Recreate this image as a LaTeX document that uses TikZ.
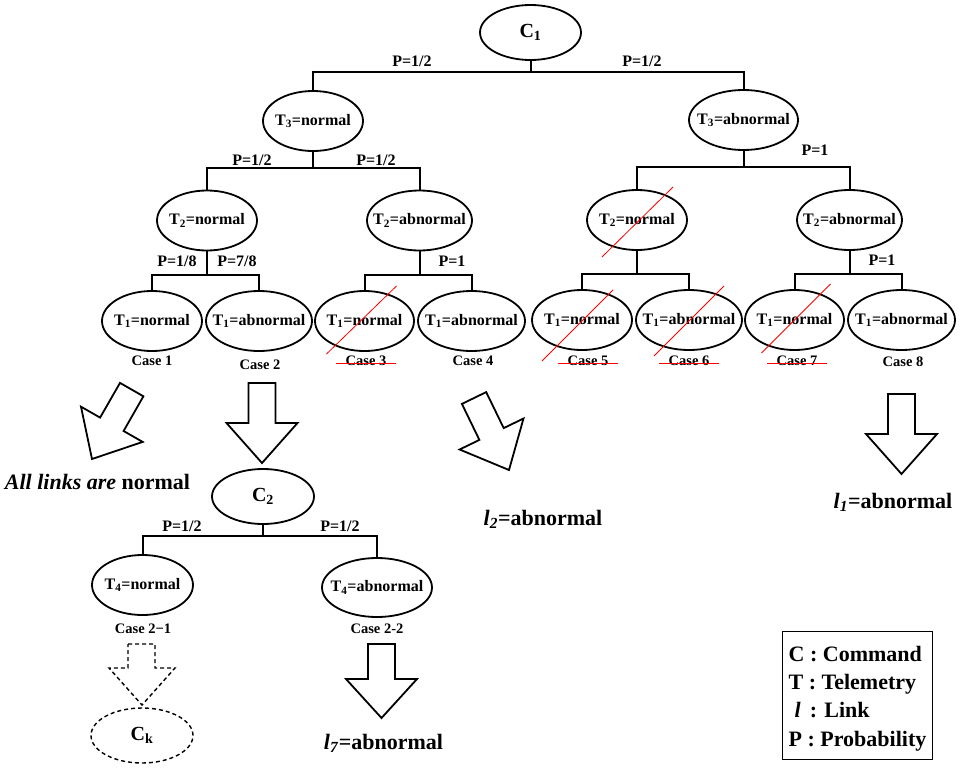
\documentclass[tikz,border=0pt]{standalone}
\usepackage{fontspec}
\setmainfont{Liberation Serif}
\usetikzlibrary{shapes.geometric}

\begin{document}
\begin{tikzpicture}[x=1pt,y=-1pt,
			etat/.style={draw, ellipse, line width=1.8pt, inner xsep=-14pt, inner ysep=0pt, minimum width=100pt, minimum height=60pt, font=\fontsize{16}{16}\selectfont\bfseries},
			commande/.style={etat, minimum width=101pt, minimum height=55pt, font=\fontsize{20}{20}\selectfont\bfseries},
			proba/.style={inner sep=0pt, font=\fontsize{16}{16}\selectfont\bfseries},
			cas/.style={inner sep=0pt, font=\fontsize{14.5}{14.5}\selectfont\bfseries},
			resultat/.style={inner sep=0pt, font=\fontsize{22}{22}\selectfont\bfseries},
			branche/.style={line width=2pt},
			barre/.style={red, line width=0.8pt},
			bloc/.style={line width=1.8pt, line join=miter}]
			
			% Cadre de l'image
			\useasboundingbox (0,0) rectangle (969,771);
			
			% Commande C1 et T3
			\node[commande] (c1) at (530.5,32.5) {C\textsubscript{1}};
			\node[etat] (t3n) at (313,121) {T\textsubscript{3}=normal};
			\node[etat, minimum width=109pt] (t3a) at (743.5,120) {T\textsubscript{3}=abnormal};
			
			% Niveau T2
			\node[etat] (t2n) at (207,220.5) {T\textsubscript{2}=normal};
			\node[etat, minimum width=105pt] (t2a) at (419.5,220.5) {T\textsubscript{2}=abnormal};
			\node[etat] (t2nb) at (637,220) {T\textsubscript{2}=normal};
			\node[etat, minimum width=105pt] (t2ab) at (849.5,220) {T\textsubscript{2}=abnormal};
			
			% Niveau T1 (cas 1 a 8)
			\node[etat] (n1) at (152,321) {T\textsubscript{1}=normal};
			\node[etat, minimum width=106pt] (n2) at (259,321) {T\textsubscript{1}=abnormal};
			\node[etat, minimum width=99pt] (n3) at (364.5,321) {T\textsubscript{1}=normal};
			\node[etat, minimum width=107pt] (n4) at (471.5,321) {T\textsubscript{1}=abnormal};
			\node[etat] (n5) at (582,320) {T\textsubscript{1}=normal};
			\node[etat, minimum width=106pt] (n6) at (689,320) {T\textsubscript{1}=abnormal};
			\node[etat, minimum width=99pt] (n7) at (794.5,320) {T\textsubscript{1}=normal};
			\node[etat, minimum width=107pt] (n8) at (901.5,320) {T\textsubscript{1}=abnormal};
			
			% Noms des cas
			\node[cas] (k1) at (152,361) {Case 1};
			\node[cas] (k2) at (260,365) {Case 2};
			\node[cas] (k3) at (366,361) {Case 3};
			\node[cas] (k4) at (473,361) {Case 4};
			\node[cas] (k5) at (588,361) {Case 5};
			\node[cas] (k6) at (689,361) {Case 6};
			\node[cas] (k7) at (797,361) {Case 7};
			\node[cas] (k8) at (903,362) {Case 8};
			
			% Branches de l'arbre
			\draw[branche] (c1.south) -- ++(0,11) coordinate (j1);
			\draw[branche] (t3n.north) |- (j1) -| (t3a.north);
			\draw[branche] (t3n.south) -- ++(0,16) coordinate (j2);
			\draw[branche] (t2n.north) |- (j2) -| (t2a.north);
			\draw[branche] (t3a.south) -- ++(0,16) coordinate (j3);
			\draw[branche] (t2nb.north) |- (j3) -| (t2ab.north);
			\draw[branche] (t2n.south) -- ++(0,24) coordinate (j4);
			\draw[branche] (n1.north) |- (j4) -| (n2.north);
			\draw[branche] (t2a.south) -- ++(0,24) coordinate (j5);
			\draw[branche] (n3.north) |- (j5) -| (n4.north);
			\draw[branche] (t2nb.south) -- ++(0,23) coordinate (j6);
			\draw[branche] (n5.north) |- (j6) -| (n6.north);
			\draw[branche] (t2ab.south) -- ++(0,23) coordinate (j7);
			\draw[branche] (n7.north) |- (j7) -| (n8.north);
			
			% Probabilites
			\node[proba] (p1) at (412,61) {P=1/2};
			\node[proba] (p2) at (642,61) {P=1/2};
			\node[proba] (p3) at (252,160) {P=1/2};
			\node[proba] (p4) at (376,160) {P=1/2};
			\node[proba] (p5) at (815,150) {P=1};
			\node[proba] (p6) at (177,261) {P=1/8};
			\node[proba] (p7) at (237,261) {P=7/8};
			\node[proba] (p8) at (452,261) {P=1};
			\node[proba] (p9) at (882,260) {P=1};
			
			% Cas impossibles barres en rouge
			\draw[barre] ([shift={(-35,37)}]t2nb.center) -- ([shift={(36,-33)}]t2nb.center);
			\draw[barre] ([shift={(-38,33)}]n3.center) -- ([shift={(32,-35)}]n3.center);
			\draw[barre] ([shift={(-40,41)}]n5.center) -- ([shift={(31,-30)}]n5.center);
			\draw[barre] ([shift={(-35,36)}]n6.center) -- ([shift={(35,-34)}]n6.center);
			\draw[barre] ([shift={(-33,33)}]n7.center) -- ([shift={(36,-36)}]n7.center);
			\draw[barre] ([xshift=-9pt,yshift=-2pt]k3.west) -- ([xshift=9pt,yshift=-2pt]k3.east);
			\draw[barre] ([xshift=-9pt,yshift=-2pt]k5.west) -- ([xshift=9pt,yshift=-2pt]k5.east);
			\draw[barre] ([xshift=-9pt,yshift=-2pt]k6.west) -- ([xshift=9pt,yshift=-2pt]k6.east);
			\draw[barre] ([xshift=-9pt,yshift=-2pt]k7.west) -- ([xshift=9pt,yshift=-2pt]k7.east);
			
			% Fleches blanches
			\draw[bloc] (120,382.9) -- (143.4,396.3) -- (123.6,431) -- (142.7,441.9) -- (92,459) -- (81,406.7) -- (100.1,417.6) -- cycle;  % cas 1
			\draw[bloc] (248.5,383) -- (275.5,383) -- (275.5,423) -- (297.5,423) -- (262,463) -- (226.5,423) -- (248.5,423) -- cycle;      % cas 2
			\draw[bloc] (461.9,403.9) -- (486.2,392.1) -- (503.7,428.1) -- (523.5,418.5) -- (509,470) -- (459.6,449.5) -- (479.4,439.9) -- cycle;  % cas 4
			\draw[bloc] (888,394) -- (915,394) -- (915,434) -- (937,434) -- (901.5,474) -- (866,434) -- (888,434) -- cycle;      % cas 8
			
			% Resultats
			\node[resultat] (tous) at (97.5,482) {\textit{All links are} normal};
			\node[resultat] (l2) at (543,519) {\textit{l}\textsubscript{\textit{2}}=abnormal};
			\node[resultat] (l1) at (893,502) {\textit{l}\textsubscript{\textit{1}}=abnormal};
			
			% Commande C2 et T4
			\node[commande, minimum width=102pt] (c2) at (263,496.5) {C\textsubscript{2}};
			\node[etat, minimum width=101pt] (t4n) at (142.5,585) {T\textsubscript{4}=normal};
			\node[etat, minimum width=110pt, minimum height=59pt] (t4a) at (377,587.5) {T\textsubscript{4}=abnormal};
			\draw[branche] (c2.south) -- ++(0,11) coordinate (j8);
			\draw[branche] (t4n.north) |- (j8) -| (t4a.north);
			\node[proba] (p10) at (182,526) {P=1/2};
			\node[proba] (p11) at (340,526) {P=1/2};
			\node[cas] (k21) at (143,629) {Case 2−1};
			\node[cas] (k22) at (377,629) {Case 2-2};
			
			% Suite en pointilles vers Ck
			\draw[bloc, dash pattern=on 4pt off 3pt, line width=1.4pt] (128,644) -- (155,644) -- (155,668) -- (175,668) -- (142,705) -- (109,668) -- (128,668) -- cycle;
			\node[commande, minimum width=102pt, dash pattern=on 4pt off 3pt, line width=1.4pt] (ck) at (142,735.5) {C\textsubscript{k}};
			
			% Cas 2-2
			\draw[bloc] (368,644) -- (395,644) -- (395,679) -- (417,679) -- (381.5,718) -- (346,679) -- (368,679) -- cycle;
			\node[resultat] (l7) at (383.5,743) {\textit{l}\textsubscript{\textit{7}}=abnormal};
			
			% Legende
			\node[draw, line width=1pt, anchor=north west, align=left, inner xsep=6pt, inner ysep=8pt, minimum width=150pt, minimum height=128pt, font=\fontsize{22}{28.4}\selectfont\bfseries] (legende) at (782,631) {\rule{0pt}{21pt}C : Command\\T : Telemetry\\\hspace*{6pt}\textit{l}\hspace*{9pt}: Link\\P : Probability};
			
		\end{tikzpicture}
\end{document}
